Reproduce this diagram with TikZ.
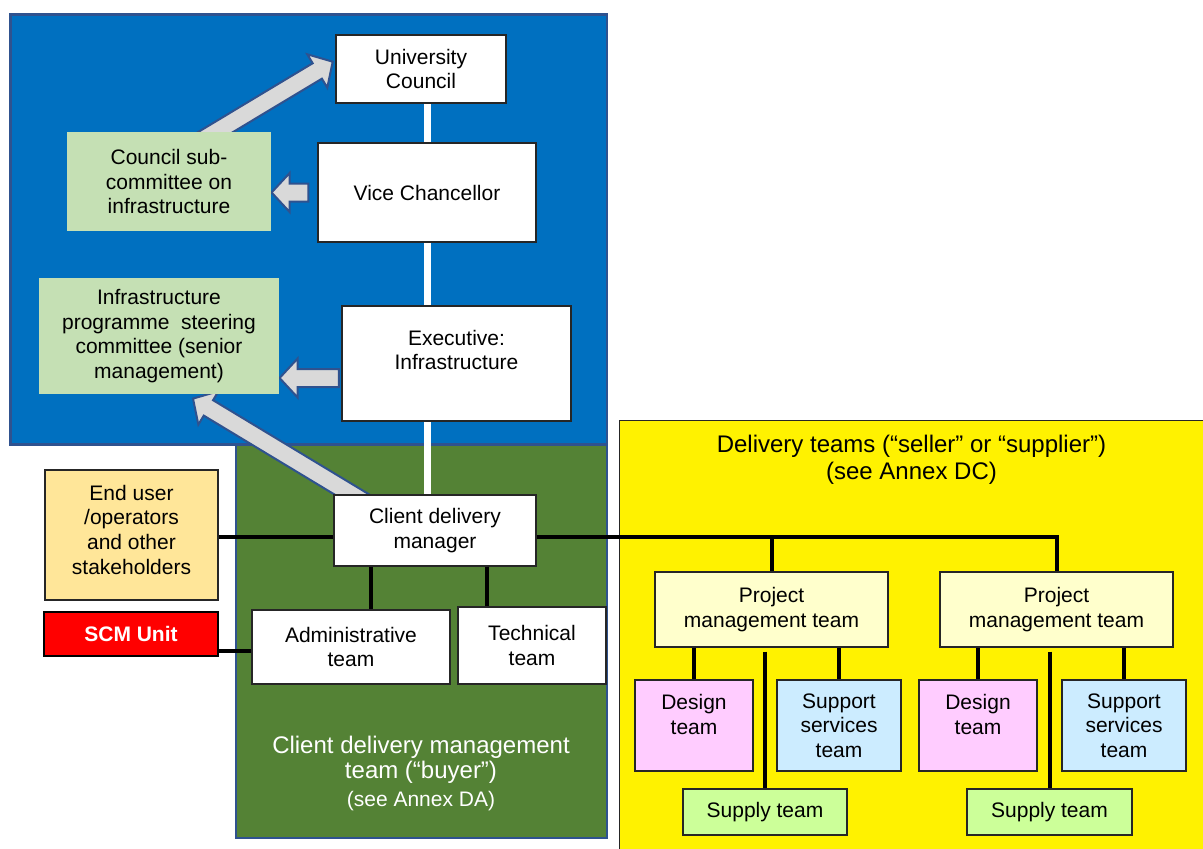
\documentclass[tikz,border=0pt]{standalone}
\usepackage{fontspec}
\setmainfont{Liberation Sans}
\usetikzlibrary{calc}

\definecolor{regionblue}{HTML}{0070C0}
\definecolor{regiongreen}{HTML}{548235}
\definecolor{outlineblue}{HTML}{2F528F}
\definecolor{sagegreen}{HTML}{C5E0B4}
\definecolor{sand}{HTML}{FFE699}
\definecolor{cream}{HTML}{FFFFCC}
\definecolor{pinkish}{HTML}{FFCCFF}
\definecolor{skyblue}{HTML}{CCECFF}
\definecolor{limegreen}{HTML}{CCFF99}
\definecolor{arrowgray}{HTML}{D9D9D9}

\newcommand{\bodysize}{\fontsize{15.75pt}{18.5pt}\selectfont}

\pgfdeclarelayer{regions}
\pgfdeclarelayer{arrows}
\pgfsetlayers{regions,arrows,main}

% box node spanning the corners (x1,y1)-(x2,y2): [options]{name}{x1}{y1}{x2}{y2}{text}
\newcommand{\panel}[7][]{%
  \pgfmathsetmacro\panelw{(#5-#3)*0.75}%
  \pgfmathsetmacro\panelh{(#6-#4)*0.75}%
  \node[box, minimum width=\panelw pt, minimum height=\panelh pt, #1]
    (#2) at ({(#3+#5)/2},{(#4+#6)/2}) {#7};
}

% block arrow from tail #1 to tip #2
\newcommand{\blockarrow}[2]{%
  \coordinate (ba-t) at (#1);
  \coordinate (ba-h) at (#2);
  \coordinate (ba-b) at ($(ba-h)!13.5pt!(ba-t)$);
  \filldraw[blockarr]
    ($(ba-t)!6.75pt!90:(ba-h)$) -- ($(ba-b)!6.75pt!90:(ba-h)$) --
    ($(ba-b)!14.6pt!90:(ba-h)$) -- (ba-h) --
    ($(ba-b)!14.6pt!-90:(ba-h)$) -- ($(ba-b)!6.75pt!-90:(ba-h)$) --
    ($(ba-t)!6.75pt!-90:(ba-h)$) -- cycle;
}

\begin{document}
\begin{tikzpicture}[x=0.75pt,y=-0.75pt,
  region/.style={line width=2pt, draw=outlineblue},
  box/.style={draw=black!85, line width=0.9pt, fill=white, inner sep=0pt,
              align=center, font=\bodysize},
  plain/.style={draw=none},
  txt/.style={inner sep=0pt, align=center, font=\bodysize},
  link/.style={line width=3pt, draw=black},
  spine/.style={line width=5.5pt, draw=white},
  blockarr/.style={fill=arrowgray, draw=outlineblue, line width=1.5pt, line join=miter}]

\useasboundingbox (0,0) rectangle (1203,849);

% governance (blue) and client team (green) panels, delivery area (yellow)
\begin{pgfonlayer}{regions}
  \draw[region, fill=regiongreen] (236,440) rectangle (607,838);
  \draw[region, fill=regionblue] (10.5,14.5) rectangle (607,444.5);
  \fill[yellow] (619.5,420.5) rectangle (1203,849);
  \draw[line width=1.2pt, black!85] (619.5,849) -- (619.5,420.5) -- (1203,420.5);
\end{pgfonlayer}

% governance boxes
\panel{uc}{336}{35}{506}{103}{University\\Council}
\panel{vc}{318}{143}{536}{242}{Vice Chancellor}
\panel[plain, fill=sagegreen]{csc}{67}{132}{271}{231}{Council sub-\\committee on\\infrastructure}
\panel[plain, fill=sagegreen]{steer}{39}{278}{279}{394}{Infrastructure\\programme~ steering\\committee (senior\\management)}
\panel{exec}{342}{306}{571}{421}{}
\node[txt] (exec-text) at (456.5,350) {Executive:\\Infrastructure};

% client delivery management team
\panel{cdm}{334}{495}{536}{566}{Client delivery\\manager}
\panel[fill=sand]{eu}{45}{470}{218}{600}{}
\node[txt] (eu-text) at (131.5,529.5) {End user\\/operators\\and other\\stakeholders};
\panel[fill=red, draw=black, line width=1.5pt, text=white, font=\bodysize\bfseries]{scm}{44}{612}{218}{656}{SCM Unit}
\panel{admin}{252}{610}{450}{684}{Administrative\\team}
\panel{tech}{458}{607}{606}{684}{Technical\\team}
\node[inner sep=0pt, align=center, text=white, font=\fontsize{18pt}{18.75pt}\selectfont]
  (buyer) at (421,759.5) {Client delivery management\\team (“buyer”)};
\node[txt, text=white] (annex-da) at (421,801) {(see Annex DA)};

% delivery teams
\node[inner sep=0pt, align=center, font=\fontsize{18pt}{20.25pt}\selectfont]
  (seller) at (911.5,459.5) {Delivery teams (“seller” or “supplier”)\\(see Annex DC)};
\panel[fill=cream]{pmt1}{655}{572}{888}{647}{Project\\management team}
\panel[fill=cream]{pmt2}{940}{572}{1173}{647}{Project\\management team}
\panel[fill=pinkish]{des1}{635}{680}{753}{771}{}
\node[txt] (des1-text) at ($(des1.center)+(0,-11)$) {Design\\team};
\panel[fill=skyblue]{sup1}{777}{680}{901}{771}{Support\\services\\team}
\panel[fill=limegreen]{supply1}{683}{789}{847}{835}{Supply team}
\panel[fill=pinkish]{des2}{919}{680}{1037}{771}{}
\node[txt] (des2-text) at ($(des2.center)+(0,-11)$) {Design\\team};
\panel[fill=skyblue]{sup2}{1062}{680}{1186}{771}{Support\\services\\team}
\panel[fill=limegreen]{supply2}{967}{789}{1132}{835}{Supply team}

% white reporting spine and block arrows behind the boxes
\begin{pgfonlayer}{arrows}
  \coordinate (spinex) at (427.5,0);
  \draw[spine] (uc.south -| spinex) -- (cdm.north -| spinex);
  \blockarrow{$(csc.north)+(26,13)$}{$(uc.west)+(-2.7,-7.3)$}
  \blockarrow{$(vc.west)+(-9,0)$}{csc.east |- vc.west}
  \blockarrow{$(exec.west)+(-2.5,14.5)$}{$(steer.east)+(0,42)$}
  \blockarrow{$(cdm.north)+(-70,8)$}{$(steer.south)+(34,4)$}
\end{pgfonlayer}

% black connectors
\coordinate (bus) at (0,537);
\coordinate (adminx) at (371,0);
\coordinate (techx) at (487,0);
\coordinate (scmy) at (0,651);
\draw[link] (eu.east |- bus) -- (cdm.west |- bus);
\draw[link] (cdm.east |- bus) -| (pmt2.north);
\draw[link] (pmt1.north |- bus) -- (pmt1.north);
\draw[link] (cdm.south -| adminx) -- (admin.north -| adminx);
\draw[link] (cdm.south -| techx) -- (tech.north -| techx);
\draw[link] (scm.east |- scmy) -- (admin.west |- scmy);
\foreach \p/\c in {pmt1/des1, pmt1/sup1, pmt2/des2, pmt2/sup2}
  \draw[link] (\c.north |- \p.south) -- (\c.north);
\foreach \p/\c in {pmt1/supply1, pmt2/supply2}
  \draw[link, shorten <=3pt] (\c.north |- \p.south) -- (\c.north);

\end{tikzpicture}
\end{document}
